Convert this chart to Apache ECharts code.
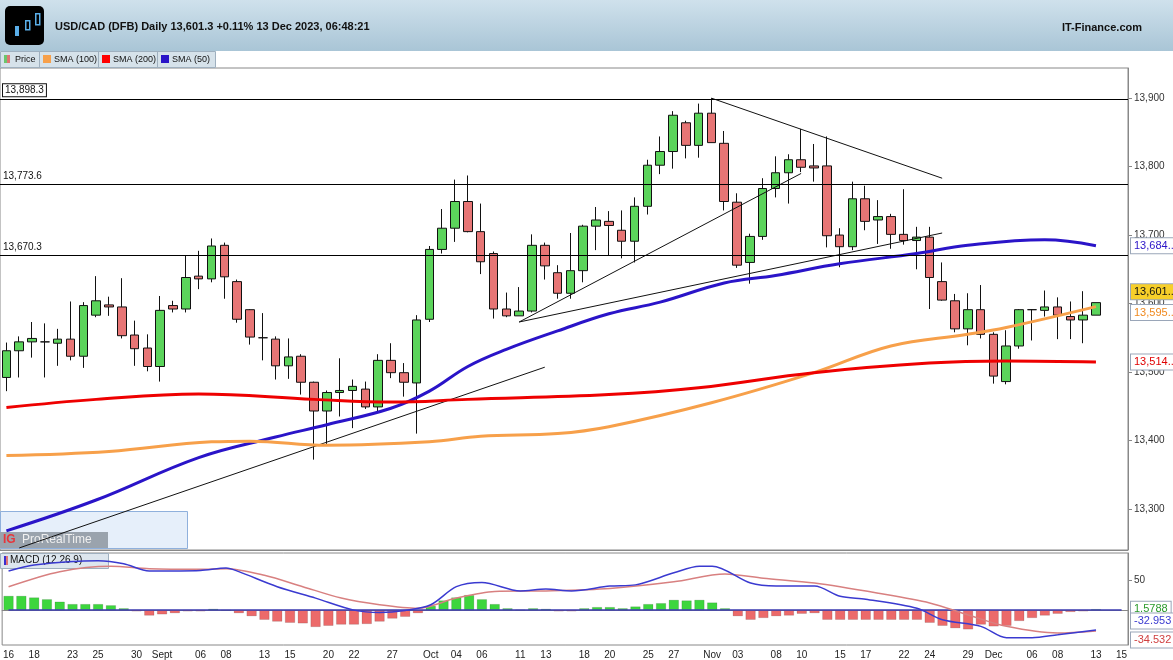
<!DOCTYPE html>
<html>
<head>
<meta charset="utf-8">
<script src="https://cdn.jsdelivr.net/npm/echarts@6/dist/echarts.min.js"></script>
<style>
  html, body { margin: 0; padding: 0; background: #fff; }
  #chart { width: 1173px; height: 660px; }
</style>
</head>
<body>
<div id="chart"></div>
<script>
// trading days shown on the chart (Dec 14/15 are empty slots)
const months = [
  ['08', [16,17,18,21,22,23,24,25,28,29,30,31]],
  ['09', [1,4,5,6,7,8,11,12,13,14,15,18,19,20,21,22,25,26,27,28,29]],
  ['10', [2,3,4,5,6,9,10,11,12,13,16,17,18,19,20,23,24,25,26,27,30,31]],
  ['11', [1,2,3,6,7,8,9,10,13,14,15,16,17,20,21,22,23,24,27,28,29,30]],
  ['12', [1,4,5,6,7,8,11,12,13,14,15]]
];
const dates = [];
months.forEach(([m, days]) => days.forEach(d => dates.push(m + '-' + String(d).padStart(2, '0'))));

const tickLabels = {
  '08-16':'16','08-18':'18','08-23':'23','08-25':'25','08-30':'30','09-01':'Sept',
  '09-06':'06','09-08':'08','09-13':'13','09-15':'15','09-20':'20','09-22':'22','09-27':'27',
  '10-02':'Oct','10-04':'04','10-06':'06','10-11':'11','10-13':'13','10-18':'18','10-20':'20',
  '10-25':'25','10-27':'27','11-01':'Nov','11-03':'03','11-08':'08','11-10':'10','11-15':'15',
  '11-17':'17','11-22':'22','11-24':'24','11-29':'29','12-01':'Dec','12-06':'06','12-08':'08',
  '12-13':'13','12-15':'15'
};

// [open, close, low, high]
const ohlc = [
  [13492,13531,13472,13543],[13531,13544,13492,13552],[13544,13549,13521,13573],[13544,13544,13492,13571],
  [13542,13548,13509,13563],[13548,13523,13517,13603],[13523,13597,13506,13602],[13583,13604,13580,13640],
  [13598,13595,13582,13610],[13595,13553,13549,13637],[13554,13534,13509,13575],[13535,13508,13501,13555],
  [13508,13590,13486,13611],[13597,13592,13587,13604],[13592,13638,13587,13670],[13640,13636,13621,13677],
  [13636,13684,13631,13695],[13685,13639,13607,13689],[13632,13577,13572,13635],[13591,13551,13540,13592],
  [13550,13550,13517,13586],[13548,13509,13489,13552],[13509,13522,13490,13549],[13523,13485,13467,13526],
  [13485,13443,13372,13486],[13443,13470,13393,13473],[13470,13473,13435,13520],[13473,13479,13418,13489],
  [13475,13449,13446,13486],[13449,13517,13442,13526],[13517,13499,13491,13542],[13499,13485,13464,13513],
  [13484,13576,13410,13583],[13577,13679,13573,13684],[13679,13710,13673,13738],[13710,13749,13690,13781],
  [13749,13705,13704,13787],[13705,13661,13643,13746],[13673,13592,13578,13676],[13592,13582,13580,13616],
  [13582,13589,13582,13624],[13589,13685,13587,13701],[13685,13655,13635,13689],[13645,13615,13607,13656],
  [13615,13648,13607,13703],[13648,13713,13631,13715],[13713,13722,13678,13741],[13720,13714,13670,13735],
  [13707,13691,13666,13736],[13691,13742,13660,13755],[13742,13802,13730,13810],[13802,13822,13789,13844],
  [13822,13875,13797,13881],[13864,13831,13812,13867],[13831,13878,13813,13892],[13878,13835,13835,13900],
  [13834,13749,13736,13852],[13748,13656,13652,13761],[13660,13698,13629,13702],[13698,13768,13693,13783],
  [13768,13791,13755,13815],[13791,13810,13746,13818],[13810,13799,13792,13855],[13801,13798,13778,13833],
  [13801,13699,13682,13844],[13700,13683,13653,13710],[13683,13753,13678,13778],[13753,13720,13707,13772],
  [13722,13727,13687,13751],[13727,13701,13680,13731],[13701,13692,13686,13767],[13692,13697,13650,13712],
  [13697,13638,13592,13712],[13632,13605,13604,13660],[13604,13563,13558,13614],[13563,13591,13539,13615],
  [13591,13555,13549,13627],[13555,13494,13483,13558],[13486,13538,13482,13561],[13538,13591,13534,13592],
  [13591,13591,13546,13592],[13590,13595,13581,13619],[13595,13583,13548,13609],[13581,13576,13548,13603],
  [13576,13583,13542,13618],[13583,13601.3,13583,13601.3]
];

// moving averages read at sample days: [dayIndex, value]
const sma50 = [[0,13268],[7,13313],[15,13375],[21,13405],[25,13423],[30,13447],[33,13472],[36,13508],
  [39,13533],[43,13560],[47,13585],[51,13602],[56,13630],[60,13641],[65,13658],[71,13673],[75,13685],[81,13693],[85,13684.5]];
const sma100 = [[0,13378],[8,13384],[16,13398],[19,13399],[25,13393],[33,13398],[37,13406],[43,13410],
  [47,13420],[55,13455],[63,13499],[69,13538],[75,13555],[78,13565],[85,13595.5]];
const sma200 = [[0,13448],[7,13460],[15,13468],[24,13460],[30,13456],[36,13460],[47,13467],[54,13477],
  [63,13499],[72,13513],[78,13516],[85,13514.5]];

const levels = [13898.3, 13773.6, 13670.3];
const trendLines = [
  [[1,13243],[42,13507]],
  [[40,13573],[62,13790]],
  [[40,13573],[73,13703]],
  [[55,13900],[73,13783]]
];

const macdLine = [[0,65],[2,75],[7,82],[9,77],[11,65],[15,66],[17,70],[18,64],[21,39],[24,20],[27,0],[29,-4],
  [31,-0.5],[33,9],[35,39],[37,46],[40,32],[42,35],[44,32],[47,40],[49,42],[52,62],[54,73],[55,73],[58,45],
  [60,40],[63,40],[65,23],[67,18],[71,3],[73,-16],[76,-27],[78,-46],[80,-46],[82,-41],[85,-32.953]];
const signalLine = [[0,39],[4,64],[8,73],[11,69],[15,68],[17,69],[20,58],[23,39],[26,20],[29,9],[32,3],[35,20],
  [38,31],[42,32],[47,36],[52,47],[56,60],[59,53],[63,45],[68,28],[72,12],[75,-8],[78,-27],[82,-38],[85,-34.532]];
const macdHist = [23.6,23.6,21,18,14,10,10,10,8,3,-2,-9,-7,-5,-2,-2,2,-0.5,-5,-10,-16,-19,-21,-22,-28,-26,-24,-24,
  -23,-19,-14,-11,-5,7,16,21,25,18,10,3,0.4,3,2,-2,-2,3,5,5,3,6,10,11.5,17,16,17,12.6,3,-10,-16,-13,-10,-9,-6,-5,
  -16,-16,-16,-16,-16,-16,-16,-16,-21,-26,-30,-32,-24,-27,-26,-18,-13,-9,-6,-3,-2,1.5788];

const fmt = v => v.toLocaleString('en-US', { maximumFractionDigits: 1 });
const font = 'Arial, "Liberation Sans", sans-serif';

function endTag(value, text, color, bg, dy) {
  return {
    silent: true, symbol: 'none',
    lineStyle: { color: 'rgba(0,0,0,0)', width: 0 },
    label: {
      show: true, position: 'end', formatter: text, color: color, fontSize: 11, fontFamily: font,
      backgroundColor: bg || '#fff', borderColor: '#9aa6b8', borderWidth: 1, padding: [2, 3], distance: 3,
      offset: [0, dy || 0]
    },
    data: [{ yAxis: value }]
  };
}

const chart = echarts.init(document.getElementById('chart'));

chart.setOption({
  animation: false,
  backgroundColor: '#fff',
  textStyle: { fontFamily: font },
  graphic: [
    { type: 'rect', left: 0, top: 0, shape: { width: 1173, height: 51 },
      style: { fill: new echarts.graphic.LinearGradient(0, 0, 0, 1, [{ offset: 0, color: '#cfe1ec' }, { offset: 1, color: '#a9c5d6' }]) } },
    { type: 'rect', left: 5, top: 6, shape: { width: 39, height: 39, r: 5 }, style: { fill: '#000' } },
    { type: 'rect', left: 15, top: 26, shape: { width: 4, height: 10 }, style: { fill: '#5aaee8' } },
    { type: 'rect', left: 25, top: 20, shape: { width: 4, height: 9 }, style: { fill: '#000', stroke: '#5aaee8', lineWidth: 1.5 } },
    { type: 'rect', left: 35, top: 13, shape: { width: 4, height: 11 }, style: { fill: '#000', stroke: '#5aaee8', lineWidth: 1.5 } },
    { type: 'text', left: 55, top: 21, style: { text: 'USD/CAD (DFB) Daily 13,601.3 +0.11% 13 Dec 2023, 06:48:21', fill: '#111', font: 'bold 11px ' + font } },
    { type: 'text', right: 31, top: 22, style: { text: 'IT-Finance.com', fill: '#111', font: 'bold 11px ' + font } },
    { type: 'rect', left: 0, top: 51, shape: { width: 215, height: 16 }, style: { fill: '#d6e2ea', stroke: '#9fb0bf' } },
    { type: 'rect', left: 4, top: 55, shape: { width: 4, height: 8 }, style: { fill: '#6cc56c' } },
    { type: 'rect', left: 7, top: 55, shape: { width: 3, height: 8 }, style: { fill: '#e07474' } },
    { type: 'text', left: 15, top: 55, style: { text: 'Price', fill: '#111', font: '9px ' + font } },
    { type: 'line', shape: { x1: 39.5, y1: 51, x2: 39.5, y2: 67 }, style: { stroke: '#9fb0bf' } },
    { type: 'rect', left: 43, top: 55, shape: { width: 8, height: 8 }, style: { fill: '#f7a04a' } },
    { type: 'text', left: 54, top: 55, style: { text: 'SMA (100)', fill: '#111', font: '9px ' + font } },
    { type: 'line', shape: { x1: 98.5, y1: 51, x2: 98.5, y2: 67 }, style: { stroke: '#9fb0bf' } },
    { type: 'rect', left: 102, top: 55, shape: { width: 8, height: 8 }, style: { fill: '#f00' } },
    { type: 'text', left: 113, top: 55, style: { text: 'SMA (200)', fill: '#111', font: '9px ' + font } },
    { type: 'line', shape: { x1: 157.5, y1: 51, x2: 157.5, y2: 67 }, style: { stroke: '#9fb0bf' } },
    { type: 'rect', left: 161, top: 55, shape: { width: 8, height: 8 }, style: { fill: '#2a14c8' } },
    { type: 'text', left: 172, top: 55, style: { text: 'SMA (50)', fill: '#111', font: '9px ' + font } },
    { type: 'rect', left: 0, top: 511, shape: { width: 187, height: 37 }, style: { fill: 'rgba(200,220,245,0.45)', stroke: '#8fb0dc' } },
    { type: 'rect', left: 0, top: 532, shape: { width: 108, height: 16 }, style: { fill: '#9aa3ad' } },
    { type: 'text', left: 3, top: 534, style: { text: 'IG', fill: '#e8343a', font: 'bold 12px ' + font } },
    { type: 'text', left: 22, top: 534, style: { text: 'ProRealTime', fill: '#f0f0f0', font: '12px ' + font } },
    { type: 'rect', left: 0, top: 553, shape: { width: 108, height: 15 }, style: { fill: '#dde6ee', stroke: '#9fb0bf' } },
    { type: 'rect', left: 4, top: 556, shape: { width: 2, height: 9 }, style: { fill: '#3a2fd0' } },
    { type: 'rect', left: 6, top: 556, shape: { width: 2, height: 9 }, style: { fill: '#e07474' } },
    { type: 'text', left: 10, top: 555, style: { text: 'MACD (12 26 9)', fill: '#111', font: '10px ' + font } },
    { type: 'line', shape: { x1: 0, y1: 550.5, x2: 1128, y2: 550.5 }, style: { stroke: '#888' } }
  ],
  grid: [
    { left: 0, right: 45, top: 68, height: 482, show: true, borderColor: '#888', borderWidth: 1 },
    { left: 0, right: 45, top: 553, height: 92, show: true, borderColor: '#888', borderWidth: 1 }
  ],
  xAxis: [
    { type: 'category', gridIndex: 0, data: dates, boundaryGap: true, axisLine: { show: false },
      axisTick: { show: false }, axisLabel: { show: false } },
    { type: 'category', gridIndex: 1, data: dates, boundaryGap: true,
      axisLine: { lineStyle: { color: '#888' } },
      axisTick: { interval: (i, v) => !!tickLabels[v], lineStyle: { color: '#666' }, length: 3, alignWithLabel: true },
      axisLabel: { interval: (i, v) => !!tickLabels[v], formatter: v => tickLabels[v] || '', color: '#222', fontSize: 10, margin: 5 } }
  ],
  yAxis: [
    { type: 'value', gridIndex: 0, position: 'right', min: 13240, max: 13944, scale: true,
      splitLine: { show: false }, axisLine: { show: true, lineStyle: { color: '#888' } },
      axisTick: { show: true, length: 4, customValues: [13300,13400,13500,13600,13700,13800,13900] },
      axisLabel: { customValues: [13300,13400,13500,13600,13700,13800,13900], formatter: v => fmt(v), color: '#333', fontSize: 10, margin: 6 } },
    { type: 'value', gridIndex: 1, position: 'right', min: -58, max: 95,
      splitLine: { show: false }, axisLine: { show: true, lineStyle: { color: '#888' } },
      axisTick: { show: true, length: 4, customValues: [50] },
      axisLabel: { customValues: [50], color: '#333', fontSize: 10, margin: 6 } }
  ],
  series: [
    { type: 'candlestick', xAxisIndex: 0, yAxisIndex: 0, data: ohlc.map(r => [r[0], r[1], r[2], r[3]]),
      barWidth: 9,
      itemStyle: { color: '#5bd45b', color0: '#e77575', borderColor: '#111', borderColor0: '#111', borderWidth: 1 },
      markLine: {
        silent: true, symbol: 'none',
        lineStyle: { color: '#000', width: 1, type: 'solid' },
        label: { position: 'insideStartTop', formatter: p => p.value.toLocaleString('en-US', { minimumFractionDigits: 1 }),
          color: '#111', fontSize: 10, distance: [3, 3] },
        data: levels.map((v, i) => ({ yAxis: v, label: i === 0 ? { borderColor: '#111', borderWidth: 1, padding: [1, 2], backgroundColor: '#fff' } : {} }))
      } },
    { type: 'line', xAxisIndex: 0, yAxisIndex: 0, data: [[85, 13601.3]], symbol: 'none', z: 5,
      markLine: endTag(13601.3, '13,601..', '#111', '#f7cf2a', -11) },
    ...trendLines.map(seg => ({ type: 'line', xAxisIndex: 0, yAxisIndex: 0, data: seg, symbol: 'none',
      lineStyle: { color: '#111', width: 1 }, silent: true })),
    { name: 'SMA (50)', type: 'line', data: sma50, smooth: 0.4, symbol: 'none', lineStyle: { color: '#2a14c8', width: 3 },
      markLine: endTag(13684.5, '13,684..', '#2a14c8') },
    { name: 'SMA (100)', type: 'line', data: sma100, smooth: 0.4, symbol: 'none', lineStyle: { color: '#f7a04a', width: 3 },
      markLine: endTag(13595.5, '13,595..', '#f08a20', '#fff', 6) },
    { name: 'SMA (200)', type: 'line', data: sma200, smooth: 0.4, symbol: 'none', lineStyle: { color: '#ee0000', width: 3 },
      markLine: endTag(13514.5, '13,514..', '#e00000') },
    { type: 'bar', xAxisIndex: 1, yAxisIndex: 1, data: macdHist.map(v => ({ value: v, itemStyle: { color: v >= 0 ? '#3dd63d' : '#ec6a6a' } })),
      barWidth: 10, itemStyle: { borderColor: 'rgba(0,0,0,0.25)', borderWidth: 0.5 },
      markLine: endTag(1.5788, '1.5788', '#2a9a2a') },
    { type: 'line', xAxisIndex: 1, yAxisIndex: 1, data: [[0, 0], [87, 0]], symbol: 'none', lineStyle: { color: '#3a3ab0', width: 1.5 }, silent: true },
    { type: 'line', xAxisIndex: 1, yAxisIndex: 1, data: signalLine, smooth: 0.3, symbol: 'none',
      lineStyle: { color: '#d88080', width: 1.5 }, markLine: endTag(-34.532, '-34.532', '#d04040', '#fff', 9) },
    { type: 'line', xAxisIndex: 1, yAxisIndex: 1, data: macdLine, smooth: 0.3, symbol: 'none',
      lineStyle: { color: '#3a3ad0', width: 1.5 }, markLine: endTag(-32.953, '-32.953', '#3a3ad0', '#fff', -9) }
  ]
});
</script>
</body>
</html>
